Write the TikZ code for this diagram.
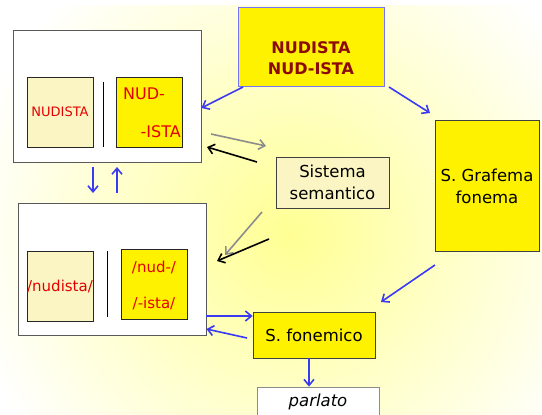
\documentclass[tikz,border=0pt]{standalone}
\usepackage{fontspec}
\setmainfont{DejaVu Sans}
\usetikzlibrary{arrows.meta,positioning,calc}
\definecolor{paleyel}{HTML}{FAF5C3}
\definecolor{topred}{HTML}{8B0A0A}
\definecolor{arrblue}{HTML}{3A3AF5}
\tikzset{
    >={Straight Barb[length=6pt,width=10pt]},
    panel/.style={
        rectangle,
        draw=black!65, thick,
        fill=white,
        inner sep=0pt
    },
    cell/.style={
        rectangle,
        draw=black!85, thick,
        minimum width=66pt,
        minimum height=70pt,
        inner sep=0pt,
        align=center,
        text=red!90!black
    },
    celltext/.style={
        text=red!90!black,
        inner sep=0pt,
        font={\fontsize{15pt}{18}\selectfont}
    },
    sysbox/.style={
        rectangle,
        draw=black!75, thick,
        fill=yellow,
        inner sep=0pt,
        align=center,
        font={\fontsize{16.5pt}{22}\selectfont}
    },
    blueline/.style={draw=arrblue, line width=1.6pt, ->},
    grayline/.style={draw=black!45, line width=1.6pt, ->},
    blackline/.style={draw=black, line width=1.6pt, ->},
}
\begin{document}
\begin{tikzpicture}[x=1pt,y=-1pt]
\useasboundingbox (0,0) rectangle (542,415);
% background glow
\fill[white] (0,0) rectangle (542,415);
\shade[inner color=yellow!42, outer color=white] (290,235) circle (330);
\fill[white] (0,0) rectangle (542,5);
% top centre box
\node[sysbox, draw=arrblue!70, minimum width=146pt, minimum height=79pt] (word) at (311,46.5) {};
\node[text=topred, align=center, inner sep=0pt,
      font={\fontsize{16pt}{21}\selectfont\bfseries}] (wordtext) at (311,58) {NUDISTA\\NUD-ISTA};
% written word panel
\node[panel, minimum width=188pt, minimum height=132pt] (graph) at (107,96) {};
\node[cell, fill=paleyel, font={\fontsize{13pt}{15}\selectfont}] (gwhole) at (60,112) {NUDISTA};
\node[cell, fill=yellow] (gparts) at (149.5,112) {};
\node[celltext, font={\fontsize{16pt}{18}\selectfont}, anchor=west] (gnud) at (123,94) {NUD-};
\node[celltext, font={\fontsize{16pt}{18}\selectfont}, anchor=east] (gista) at (181,132) {-ISTA};
\draw[thick] (103,82) -- (103,147);
% spoken word panel
\node[panel, minimum width=188pt, minimum height=132pt] (phon) at (112,269) {};
\node[cell, fill=paleyel, font={\fontsize{15pt}{18}\selectfont}] (pwhole) at (60,286) {/nudista/};
\node[cell, fill=yellow] (pparts) at (154,284) {};
\node[celltext] (pnud) at (154,267) {/nud-/};
\node[celltext] (pista) at (154,303) {/-ista/};
\draw[thick] (107,251) -- (107,317);
% systems
\node[sysbox, fill=paleyel, minimum width=113pt, minimum height=51pt] (sem) at (332.5,182.5) {Sistema\\semantico};
\node[sysbox, minimum width=104pt, minimum height=131pt] (graf) at (487,186) {S. Grafema\\fonema};
\node[sysbox, minimum width=122pt, minimum height=46pt] (fonem) at (314,335) {S. fonemico};
\node[sysbox, fill=white, draw=black!45, minimum width=122pt, minimum height=30pt,
      font={\fontsize{16.5pt}{22}\selectfont\itshape}] (out) at (318,402) {parlato};
% connectors
\coordinate (wordL) at (243,87);
\coordinate (wordR) at (389,87);
\coordinate (grafin) at (430,113);
\coordinate (grafout) at (435,265);
\coordinate (fonin) at (381,302);
\draw[blueline] (wordL) -- (graph.east |- 0,108);
\draw[blueline] (wordR) -- (grafin);
\draw[blueline] (grafout) -- (fonin);
\draw[blueline] (fonem.south -| 309,0) -- (out.north -| 309,0);
\draw[blueline] (93,167) -- (93,193);
\draw[blueline] (117,193) -- (117,167);
\draw[blueline] (phon.east |- 0,316) -- (fonem.west |- 0,316);
\draw[blueline] (247,338) -- (phon.east |- 0,329);
\draw[grayline] (211,134) -- (266,146);
\draw[blackline] (257,162) -- (207,147);
\draw[grayline] (262,212) -- (225,255);
\draw[blackline] (269,239) -- (217,261);
\end{tikzpicture}
\end{document}
